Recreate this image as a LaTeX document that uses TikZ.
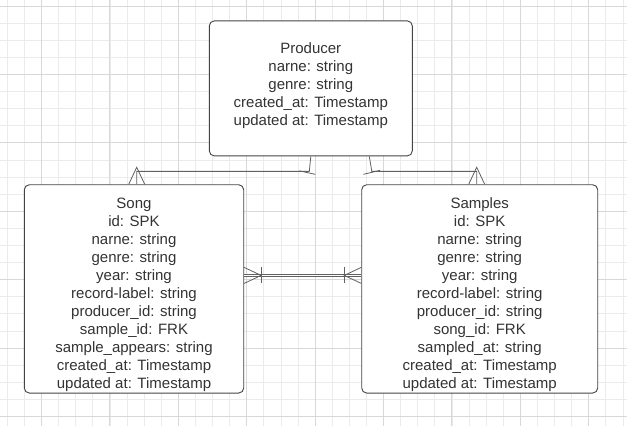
\documentclass[tikz,border=0pt]{standalone}
\usepackage{fontspec}
\setmainfont{Liberation Sans}
\usepackage{xcolor}
\usetikzlibrary{positioning}

\definecolor{gridminor}{HTML}{EBEBEB}
\definecolor{gridmajor}{HTML}{D8D8D8}
\definecolor{outline}{HTML}{444444}
\definecolor{ink}{HTML}{333333}

\begin{document}
\begin{tikzpicture}[
  x=1pt, y=-1pt,
  entity/.style={draw=outline, fill=white, rounded corners=5pt, line width=0.9pt,
                 text=ink, inner sep=0pt,
                 font=\fontsize{15}{18}\selectfont},
  conn/.style={draw=outline!85, line width=0.8pt},
  link/.style={conn, line width=0.6pt, double=white, double distance=1.8pt},
  minorline/.style={draw=gridminor, line width=0.8pt},
  majorline/.style={draw=gridmajor, line width=1pt}
]
\useasboundingbox (0,0) rectangle (627,426);
\fill[white] (0,0) rectangle (627,426);

% grid
\foreach \k in {0,...,36} \draw[minorline] ({7.3+17.1*\k},0) -- ({7.3+17.1*\k},426);
\foreach \k in {0,...,24} \draw[minorline] (0,{6+17.1*\k}) -- (627,{6+17.1*\k});
\foreach \k in {2,6,...,34} \draw[majorline] ({7.3+17.1*\k},0) -- ({7.3+17.1*\k},426);
\foreach \k in {0,4,...,24} \draw[majorline] (0,{6+17.1*\k}) -- (627,{6+17.1*\k});

\node[entity, minimum width=203pt, minimum height=135pt] (prod) at (310.8,88.4)
  {\raisebox{-1.25pt}[0pt][0pt]{\begin{tabular}{@{}c@{}}Producer\\narne: string\\genre: string\\created\_at: Timestamp\\updated at: Timestamp\end{tabular}}};
\node[entity, minimum width=219.4pt, minimum height=208.3pt] (song) at (134,288.9)
  {\raisebox{-9.25pt}[0pt][0pt]{\begin{tabular}{@{}c@{}}Song\\id: SPK\\narne: string\\genre: string\\year: string\\record-label: string\\producer\_id: string\\sample\_id: FRK\\sample\_appears: string\\created\_at: Timestamp\\updated at: Timestamp\end{tabular}}};
\node[entity, minimum width=236pt, minimum height=208.3pt] (samp) at (479.7,288.9)
  {\raisebox{-9.25pt}[0pt][0pt]{\begin{tabular}{@{}c@{}}Samples\\id: SPK\\narne: string\\genre: string\\year: string\\record-label: string\\producer\_id: string\\song\_id: FRK\\sampled\_at: string\\created\_at: Timestamp\\updated at: Timestamp\end{tabular}}};

\coordinate (sf) at ([xshift=2.7pt]song.north);
\coordinate (tf) at ([xshift=-3pt]samp.north);
\coordinate (pr) at ([xshift=58.5pt]prod.south);
\coordinate (sa) at ([yshift=13.5pt]song.east);
\coordinate (sb) at ([yshift=13.5pt]samp.west);

% producer to song
\draw[conn] (prod.south) -- ++(-1.5,15) coordinate (pk) -- (pk -| sf) -- (sf);
\draw[conn] (pk) ++(-10,-0.5) -- ++(16,3.5);
\draw[conn] (sf) ++(-8,0) -- ++(8,-17) -- ++(8,17);

% producer to samples
\draw[conn] (pr) -- ++(2.5,15) coordinate (rk) -- (rk -| tf) -- (tf);
\draw[conn] (rk) ++(-8.5,3) -- ++(16.7,-4);
\draw[conn] (tf) ++(-8,0) -- ++(8,-17) -- ++(8,17);

% song to samples
\draw[link] (sa) -- (sb);
\draw[conn] (sa) ++(0,-8) -- ++(17,8) -- ++(-17,8);
\draw[conn] (sa) ++(17,-8) -- ++(0,16);
\draw[conn] (sb) ++(0,-8) -- ++(-17,8) -- ++(17,8);
\draw[conn] (sb) ++(-17,-8) -- ++(0,16);
\end{tikzpicture}
\end{document}
